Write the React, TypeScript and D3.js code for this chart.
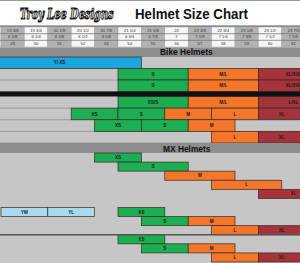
import React from 'react'
import * as d3 from 'd3'

// head circumference (inches), hat size, centimetres
const sizesInch = ['19', '19 3/8', '19 3/4', '20 1/8', '20 1/2', '20 7/8', '21 1/4', '21 5/8', '22', '22 3/8', '22 3/4', '23 1/8', '23 1/2', '23 7/8', '24 1/4']
const hatSizes = ['6', '6 1/8', '6 1/4', '6 3/8', '6 1/2', '6 5/8', '6 3/4', '6 7/8', '7', '7 1/8', '7 1/4', '7 3/8', '7 1/2', '7 5/8', '7 3/4']
const sizesCm = ['48', '49', '50', '51', '52', '53', '54', '55', '56', '57', '58', '59', '60', '61', '62']

// [label, from size, to size]
type Cell = [string, string, string]

const bikeRows: Cell[][] = [
  [['Y/ XS', '19', '21 1/4']],
  [['S', '21 1/4', '22'], ['M/L', '22 3/8', '23 1/8'], ['XL/XXL', '23 1/2', '24 1/4']],
  [['S', '21 1/4', '22'], ['M/L', '22 3/8', '23 1/8'], ['XL/XXL', '23 1/2', '24 1/4']],
  [['XS/S', '21 1/4', '22'], ['M/L', '22 3/8', '23 1/8'], ['L/XL', '23 1/2', '24 1/4']],
  [['XS', '20 1/2', '20 7/8'], ['S', '21 1/4', '21 5/8'], ['M', '22', '22 3/8'], ['L', '22 3/4', '23 1/8'], ['XL', '23 1/2', '23 7/8']],
  [['XS', '20 7/8', '21 1/4'], ['S', '21 5/8', '22'], ['M', '22 3/8', '22 3/4']],
  [['L', '22 3/4', '23 1/8'], ['XL', '23 1/2', '23 7/8']],
]

const mxRows: Cell[][] = [
  [['XS', '20 7/8', '21 1/4']],
  [['S', '21 1/4', '22']],
  [['M', '22', '22 3/4']],
  [['L', '22 3/4', '23 1/2']],
  [['XL', '23 1/2', '24 1/4']],
  [],
  [['YM', '19 3/8', '19 3/4'], ['YL', '20 1/8', '20 1/2'], ['XS', '21 1/4', '21 5/8']],
  [['S', '21 5/8', '22'], ['M', '22 3/8', '22 3/4']],
  [['L', '22 3/4', '23 1/8'], ['XL', '23 1/2', '23 7/8']],
  [['XS', '21 1/4', '21 5/8']],
  [['S', '21 5/8', '22'], ['M', '22 3/8', '22 3/4']],
  [['L', '22 3/4', '23 1/8'], ['XL', '23 1/2', '23 7/8']],
]

const GREEN = '#1cae52'
const ORANGE = '#f4762a'
const RED = '#a5333b'
const sizeColor: Record<string, string> = {
  'Y/ XS': '#1ba4de', YM: '#a9d9ea', YL: '#a9d9ea',
  XS: GREEN, S: GREEN, 'XS/S': GREEN,
  M: ORANGE, 'M/L': ORANGE, L: ORANGE,
  XL: RED, 'XL/XXL': RED, 'L/XL': RED,
}

const W = 300
const H = 263
const font = 'Liberation Sans, Arial, sans-serif'

export default function App() {
  const x = d3.scaleBand<string>()
    .domain(sizesInch)
    .range([1 - 23.4, 1 + 23.4 * 14])
    .padding(0)

  const bikeTop = d3.scaleBand<number>().domain([0, 1, 2]).range([57, 91.5])
  const bikeBottom = d3.scaleBand<number>().domain([3, 4, 5, 6]).range([96.5, 143])
  const yBike = (i: number) => (i < 3 ? bikeTop : bikeBottom)
  const yMx = d3.scaleBand<number>().domain(d3.range(mxRows.length)).range([153, 262])

  const headerY = [27, 33.7, 40.3, 47]
  const headerRows = [sizesInch, hatSizes, sizesCm]
  const colMid = (s: string) => x(s)! + x.bandwidth() / 2

  const cells = (rows: Cell[][], yOf: (i: number) => number, h: (i: number) => number, key: string) =>
    rows.flatMap((row, i) => row.map(([label, from, to], j) => {
      const x0 = x(from)!
      const x1 = x(to)! + x.bandwidth()
      const y0 = yOf(i)
      return (
        <g key={`${key}-${i}-${j}`}>
          <rect x={x0} y={y0} width={x1 - x0} height={h(i)} fill={sizeColor[label]} stroke="#3b2a20" strokeWidth={0.7} />
          <text x={(x0 + x1) / 2} y={y0 + h(i) / 2 + 1.6} textAnchor="middle" fontSize={4.6} fontWeight="bold" fill="#1a1a1a" fontFamily={font}>{label}</text>
        </g>
      )
    }))

  return (
    <svg width={W} height={H} style={{ position: 'absolute', left: 0, top: 0, background: '#fff' }}>
      <line x1={0} x2={W} y1={0.5} y2={0.5} stroke="#9a9a9a" />
      {/* logo + title */}
      <text transform="translate(20,19) scale(0.7,1)" fontFamily="DejaVu Serif, serif" fontStyle="italic" fontWeight="bold" fontSize={14}
        fill="#fff" stroke="#111" strokeWidth={1.1}>Troy Lee Designs</text>
      <text x={135} y={18.5} fontFamily={font} fontWeight="bold" fontSize={13.8} fill="#111"
        textLength={113} lengthAdjust="spacingAndGlyphs">Helmet Size Chart</text>

      {/* size header table */}
      <rect x={0} y={25.3} width={W} height={1.7} fill="#8a8a8a" />
      {sizesInch.map((s, i) => (
        <rect key={`hc-${s}`} x={x(s)} y={headerY[0]} width={x.bandwidth()} height={headerY[3] - headerY[0]}
          fill={i % 2 === 1 ? '#b2b2b2' : '#f6f6f6'} stroke="#9a9a9a" strokeWidth={0.4} />
      ))}
      {headerRows.map((row, r) => row.map((s, i) => {
        const cx = colMid(sizesInch[i])
        if (cx < 0 || cx > W - 4) return null
        return (
          <text key={`ht-${r}-${i}`} x={cx} y={headerY[r] + 4.6}
            textAnchor="middle" fontSize={4.2} fill="#333" fontFamily={font}>{s}</text>
        )
      }))}
      {headerY.slice(1, 3).map(y => (
        <line key={`hl-${y}`} x1={0} x2={W} y1={y} y2={y} stroke="#6a6a6a" strokeWidth={0.7} />
      ))}

      {/* chart body */}
      <rect x={0} y={47} width={W} height={H - 47} fill="#c6c6c6" />

      <rect x={0} y={47.5} width={W} height={9.5} fill="#8d8d8d" />
      <text x={160} y={55.3} fontSize={8.4} fontWeight="bold" fill="#111" fontFamily={font}>Bike Helmets</text>

      {bikeRows.map((_, i) => (
        <line key={`bl-${i}`} x1={0} x2={W} y1={yBike(i)(i)! + yBike(i).bandwidth()} y2={yBike(i)(i)! + yBike(i).bandwidth()}
          stroke="#8e8e8e" strokeWidth={0.8} />
      ))}
      {cells(bikeRows, i => yBike(i)(i)!, i => yBike(i).bandwidth(), 'b')}
      <rect x={0} y={91.5} width={W} height={5} fill="#111" />

      <rect x={0} y={143} width={W} height={10} fill="#8d8d8d" />
      <text x={163} y={151.8} fontSize={8.4} fontWeight="bold" fill="#111" fontFamily={font}>MX Helmets</text>

      {cells(mxRows, i => yMx(i)!, () => yMx.bandwidth(), 'm')}
      <line x1={0} x2={W} y1={yMx(9)!} y2={yMx(9)!} stroke="#555" strokeWidth={1.3} />
    </svg>
  )
}
